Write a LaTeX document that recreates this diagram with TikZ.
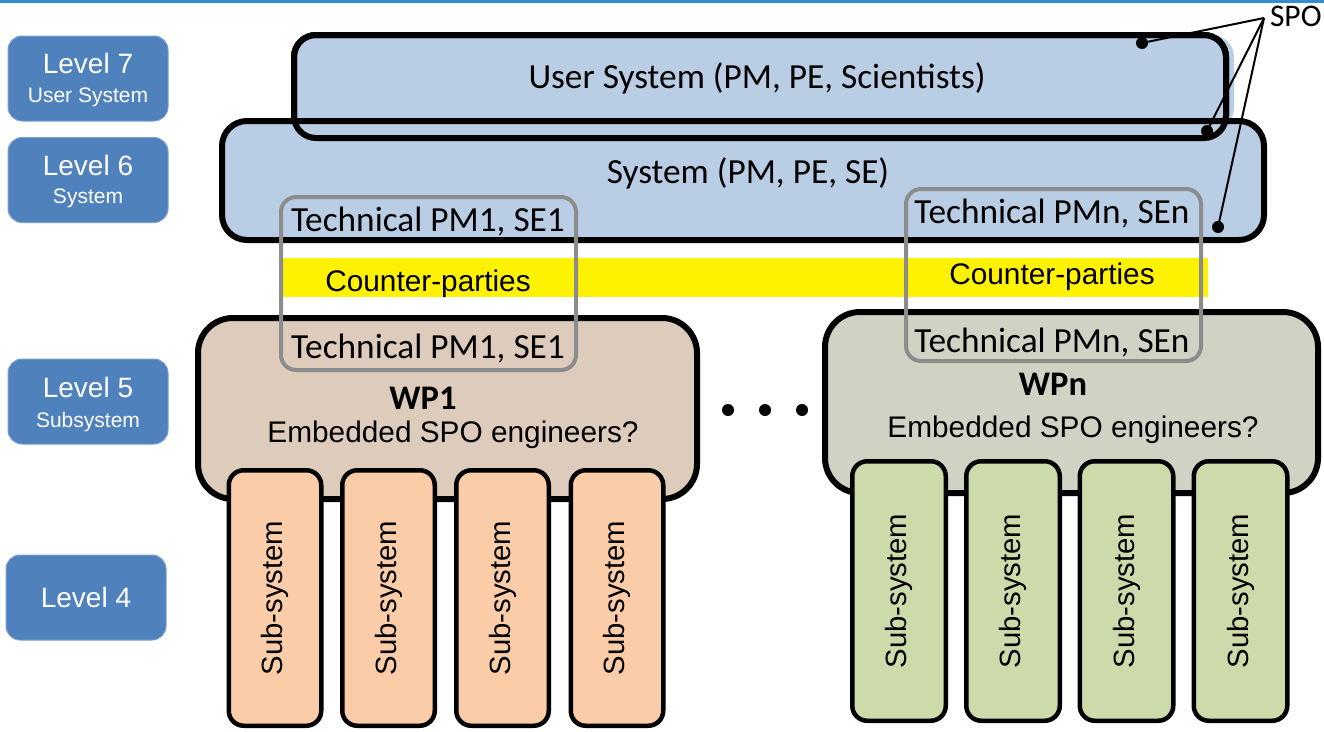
\documentclass[tikz,border=0pt]{standalone}
\usepackage{fontspec}
\setmainfont{Carlito}
\newfontfamily\arialfont{Liberation Sans}
\definecolor{levelblue}{RGB}{79,129,189}
\definecolor{levelrim}{RGB}{125,158,206}
\definecolor{sysblue}{RGB}{185,205,228}
\definecolor{wponefill}{RGB}{221,204,188}
\definecolor{wpnfill}{RGB}{208,211,195}
\definecolor{suborange}{RGB}{250,205,168}
\definecolor{subgreen}{RGB}{205,219,170}
\definecolor{techgray}{RGB}{140,140,140}
\definecolor{headerblue}{RGB}{52,140,210}

\begin{document}
\begin{tikzpicture}[x=1pt,y=-1pt,
  every node/.style={inner sep=0pt,outer sep=0pt},
  levelbox/.style={rectangle,rounded corners=14pt,fill=levelblue,draw=levelrim,
    line width=1pt,minimum width=160pt,minimum height=85pt},
  lvtitle/.style={anchor=base,text=white,font=\arialfont\fontsize{28}{30}\selectfont},
  lvsub/.style={anchor=base,text=white,font=\arialfont\fontsize{21}{24}\selectfont},
  panelrim/.style={draw=black,line width=6pt},
  caltext/.style={anchor=base,font=\fontsize{35.3}{40}\selectfont},
  boldtext/.style={anchor=base,font=\bfseries\fontsize{34.5}{40}\selectfont},
  arialtext/.style={anchor=base,font=\arialfont\fontsize{29.8}{32}\selectfont},
  techframe/.style={rectangle,rounded corners=15pt,draw=techgray,line width=4pt,
    minimum width=295pt},
  wpbox/.style={rectangle,rounded corners=35pt,draw=black,line width=6pt,
    minimum height=181pt},
  subbox/.style={rectangle,rounded corners=15pt,draw=black,line width=4.5pt,
    rotate=90,font=\arialfont\fontsize{29.3}{32}\selectfont},
  blob/.style={circle,fill=black,minimum size=12pt},
  spoline/.style={line width=2pt}
]
\useasboundingbox (0,0) rectangle (1324,731);

% header rule
\fill[headerblue] (0,0) rectangle (1324,3);

% level labels
\node[levelbox] (lv7) at (88,78.5) {};
\node[lvtitle] (lv7a) at (88,73) {Level 7};
\node[lvsub] (lv7b) at (88,102) {User System};
\node[levelbox] (lv6) at (88,180) {};
\node[lvtitle] (lv6a) at (88,175) {Level 6};
\node[lvsub] (lv6b) at (88,203) {System};
\node[levelbox] (lv5) at (88,401.5) {};
\node[lvtitle] (lv5a) at (88,397) {Level 5};
\node[lvsub] (lv5b) at (88,427) {Subsystem};
\node[levelbox] (lv4) at (86,597.5) {};
\node[lvtitle] (lv4a) at (86,607) {Level 4};

% user system and system panels
\fill[sysblue,rounded corners=22pt] (300,35) rectangle (1234,130);
\node[rectangle,rounded corners=22pt,fill=sysblue,panelrim,
  minimum width=932pt,minimum height=103pt] (user) at (760,86.5) {};
\node[rectangle,rounded corners=25pt,fill=sysblue,panelrim,
  minimum width=1042pt,minimum height=119pt] (sys) at (743,180.5) {};
\draw[panelrim,rounded corners=22pt] (user.north west) rectangle (user.south east);
\node[caltext] (usertxt) at (757,88) {User System (PM, PE, Scientists)};
\node[caltext] (systxt) at (748,183) {System (PM, PE, SE)};

% counter-party band
\node[rectangle,fill=yellow,minimum width=926pt,minimum height=39pt] (band) at (745,277.5) {};

% work packages
\node[wpbox,fill=wponefill,minimum width=499pt] (wp1) at (447.5,408.5) {};
\node[wpbox,fill=wpnfill,minimum width=493pt] (wpn) at (1071.5,402.5) {};

% technical counterpart frames
\node[techframe,minimum height=173pt] (techl) at (428.5,283.5) {};
\node[techframe,minimum height=172pt] (techr) at (1053.5,275) {};

\node[caltext] (tl1) at (428,231) {Technical PM1, SE1};
\node[arialtext] (cpl) at (428,291) {Counter-parties};
\node[caltext] (tl2) at (428,358) {Technical PM1, SE1};
\node[caltext] (tr1) at (1052,223) {Technical PMn, SEn};
\node[arialtext] (cpr) at (1052,284) {Counter-parties};
\node[caltext] (tr2) at (1052,352) {Technical PMn, SEn};

\node[boldtext] (wp1t) at (423,409) {WP1};
\node[arialtext] (wp1e) at (453,442) {Embedded SPO engineers?};
\node[boldtext] (wpnt) at (1053,395) {WPn};
\node[arialtext] (wpne) at (1073,437) {Embedded SPO engineers?};

% ellipsis between the packages
\node[blob] (e1) at (728,410) {};
\node[blob] (e2) at (765,410) {};
\node[blob] (e3) at (802,410) {};

% subsystems
\foreach \cx/\nm in {275/sa,388.5/sb,502.5/sc,617/sd}
  \node[subbox,fill=suborange,minimum width=255.5pt,minimum height=92.5pt] (\nm) at (\cx,598) {Sub-system};
\foreach \cx/\nm in {899/se,1013/sf,1126.5/sg,1240.5/sh}
  \node[subbox,fill=subgreen,minimum width=259.5pt,minimum height=93.5pt] (\nm) at (\cx,591) {Sub-system};

% SPO callout
\node[blob] (m1) at (1142,43) {};
\node[blob] (m2) at (1207,131) {};
\node[blob] (m3) at (1218,227) {};
\coordinate (hub) at (1264,18);
\node[anchor=base west,font=\fontsize{31.5}{34}\selectfont] (spo) at (1270,26) {SPO};
\draw[spoline] (hub) -- (m1.center);
\draw[spoline] (hub) -- (m2.center);
\draw[spoline] (hub) -- (m3.center);
\end{tikzpicture}
\end{document}
